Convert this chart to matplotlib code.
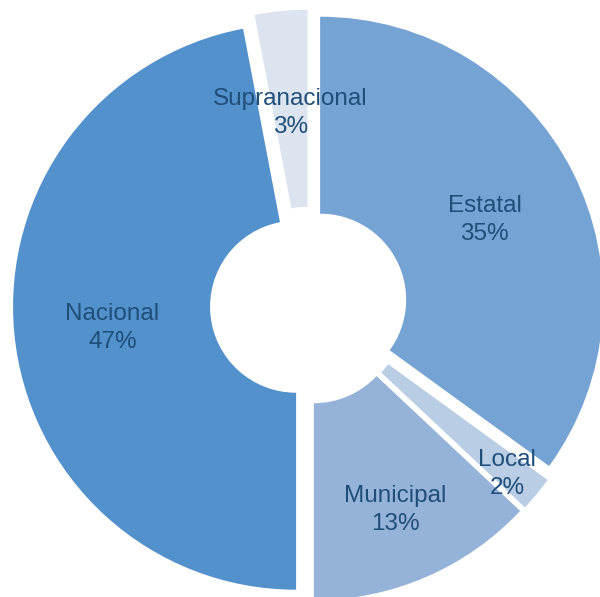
import numpy as np
import matplotlib
matplotlib.use("Agg")
import matplotlib.pyplot as plt

# =========================
# data
# =========================
categories = ["Estatal", "Local", "Municipal", "Nacional", "Supranacional"]
shares = [35, 2, 13, 47, 3]
colors = ["#75A3D3", "#B9CDE4", "#95B3D8", "#5391CC", "#DCE4F0"]

# label distance from each exploded wedge's centre (fraction of radius)
label_dist = [0.652, 0.865, 0.727, 0.652, 0.652]

plt.rcParams["font.family"] = ["Liberation Sans", "DejaVu Sans"]

fig = plt.figure(figsize=(6.0, 5.97), dpi=100)
ax = fig.add_axes([0, 0, 1, 1])

wedges, _ = ax.pie(
    shares,
    colors=colors,
    startangle=90,
    counterclock=False,
    radius=1.0,
    explode=[0.045] * len(shares),
    wedgeprops=dict(width=0.696, linewidth=0),
)

total = sum(shares)
for w, name, val, d in zip(wedges, categories, shares, label_dist):
    ang = np.deg2rad((w.theta1 + w.theta2) / 2)
    cx, cy = w.center
    ax.text(cx + d * np.cos(ang), cy + d * np.sin(ang) - 0.014,
            f"{name}\n{val / total * 100:.0f}%",
            ha="center", va="center", fontsize=17.5,
            color="#1F4E79", linespacing=1.35)

# centre of ring sits slightly right of / above the middle of the canvas
ax.set_xlim(-1.091, 1.029)
ax.set_ylim(-1.030, 1.0795)
ax.set_aspect("auto")
ax.axis("off")

fig.savefig("out.png", dpi=100, facecolor="white")
